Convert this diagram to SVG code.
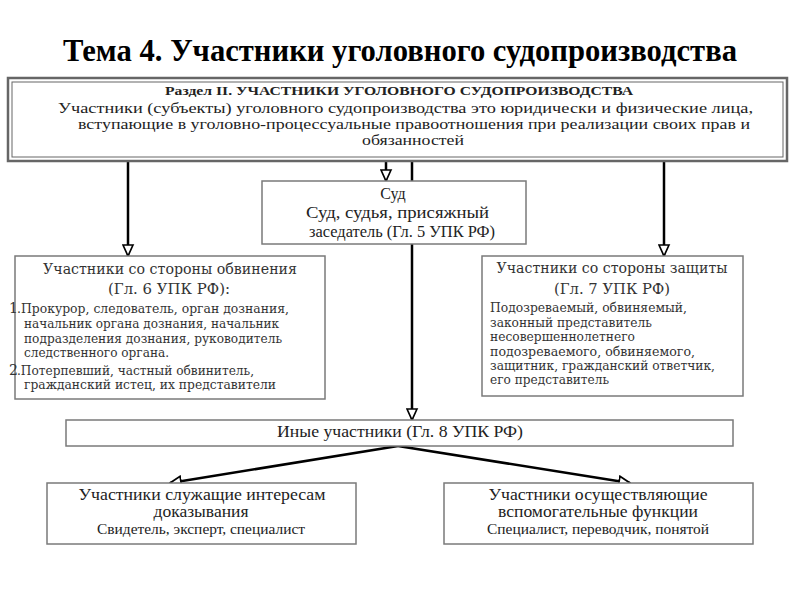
<svg xmlns="http://www.w3.org/2000/svg" width="800" height="600" viewBox="0 0 800 600">
<style>
  .box { fill: #ffffff; stroke: #7a7a7a; stroke-width: 1.5; }
  .t { font-family: "Liberation Serif", "Times New Roman", serif; fill: #222; }
  .w { font-family: "DejaVu Serif", "Liberation Serif", serif; fill: #333; }
  .title { font-family: "Liberation Serif", "Times New Roman", serif; font-weight: bold; font-size: 31px; fill: #000; }
  .conn { stroke: #000; stroke-width: 2.5; fill: none; }
</style>
<defs>
  <marker id="arr" markerUnits="userSpaceOnUse" markerWidth="13" markerHeight="13" viewBox="0 0 13 13" refX="12" refY="6.5" orient="auto">
    <path d="M1,1.5 L12,6.5 L1,11.5 Z" fill="#fff" stroke="#000" stroke-width="1.7"/>
  </marker>
</defs>
<rect width="800" height="600" fill="#fff"/>
<text class="title" x="63" y="61" textLength="674" lengthAdjust="spacingAndGlyphs">Тема 4. Участники уголовного судопроизводства</text>

<g id="connectors">
  <line class="conn" x1="128" y1="161" x2="128" y2="256" marker-end="url(#arr)"/>
  <line class="conn" x1="386" y1="161" x2="386" y2="181" marker-end="url(#arr)"/>
  <line class="conn" x1="412" y1="161" x2="412" y2="420" marker-end="url(#arr)"/>
  <line class="conn" x1="664" y1="161" x2="664" y2="256" marker-end="url(#arr)"/>
  <line class="conn" x1="398" y1="446" x2="170" y2="483" marker-end="url(#arr)"/>
  <line class="conn" x1="398" y1="446" x2="630" y2="483" marker-end="url(#arr)"/>
</g>

<g id="razdel">
  <rect x="8" y="78" width="779" height="83" fill="#fff" stroke="#666" stroke-width="2.5"/>
  <rect x="12" y="82" width="771" height="75" fill="none" stroke="#666" stroke-width="1"/>
  <text class="t" x="165" y="95" font-size="13" font-weight="bold" textLength="468" lengthAdjust="spacingAndGlyphs">Раздел II. УЧАСТНИКИ УГОЛОВНОГО СУДОПРОИЗВОДСТВА</text>
  <text class="t" x="58" y="113" font-size="15" textLength="695" lengthAdjust="spacingAndGlyphs">Участники (субъекты) уголовного судопроизводства  это юридически и физические лица,</text>
  <text class="t" x="78" y="129" font-size="15" textLength="672" lengthAdjust="spacingAndGlyphs">вступающие в уголовно-процессуальные правоотношения при реализации своих прав и</text>
  <text class="t" x="362" y="145" font-size="15" textLength="102" lengthAdjust="spacingAndGlyphs">обязанностей</text>
</g>

<g id="sud">
  <rect class="box" x="262" y="181" width="264" height="63"/>
  <text class="t" x="393" y="199" font-size="16" text-anchor="middle">Суд</text>
  <text class="t" x="306" y="218" font-size="16" textLength="183" lengthAdjust="spacingAndGlyphs">Суд, судья, присяжный</text>
  <text class="t" x="309" y="237" font-size="16" textLength="186" lengthAdjust="spacingAndGlyphs">заседатель (Гл. 5 УПК РФ)</text>
</g>

<g id="obvinenie">
  <rect class="box" x="15" y="256" width="310" height="143"/>
  <text class="w" x="170" y="274" font-size="15" text-anchor="middle" textLength="254" lengthAdjust="spacingAndGlyphs">Участники со стороны обвинения</text>
  <text class="w" x="169" y="294" font-size="15" text-anchor="middle" textLength="122" lengthAdjust="spacingAndGlyphs">(Гл. 6 УПК РФ):</text>
  <text class="w" x="9" y="313" font-size="14">1</text>
  <text class="w" x="17" y="313" font-size="12" textLength="272" lengthAdjust="spacingAndGlyphs">.Прокурор, следователь, орган дознания,</text>
  <text class="w" x="24" y="328" font-size="12" textLength="255" lengthAdjust="spacingAndGlyphs">начальник органа дознания, начальник</text>
  <text class="w" x="24" y="343" font-size="12" textLength="258" lengthAdjust="spacingAndGlyphs">подразделения дознания, руководитель</text>
  <text class="w" x="24" y="357" font-size="12" textLength="145" lengthAdjust="spacingAndGlyphs">следственного органа.</text>
  <text class="w" x="9" y="375" font-size="14">2</text>
  <text class="w" x="17" y="375" font-size="12" textLength="237" lengthAdjust="spacingAndGlyphs">.Потерпевший, частный обвинитель,</text>
  <text class="w" x="24" y="389" font-size="12" textLength="252" lengthAdjust="spacingAndGlyphs">гражданский истец, их представители</text>
</g>

<g id="zashchita">
  <rect class="box" x="482" y="256" width="261" height="140"/>
  <text class="w" x="612" y="273" font-size="15" text-anchor="middle" textLength="231" lengthAdjust="spacingAndGlyphs">Участники со стороны защиты</text>
  <text class="w" x="612" y="294" font-size="15" text-anchor="middle" textLength="116" lengthAdjust="spacingAndGlyphs">(Гл. 7 УПК РФ)</text>
  <text class="w" x="490" y="312" font-size="12" textLength="197" lengthAdjust="spacingAndGlyphs">Подозреваемый, обвиняемый,</text>
  <text class="w" x="490" y="327" font-size="12" textLength="162" lengthAdjust="spacingAndGlyphs">законный представитель</text>
  <text class="w" x="490" y="341" font-size="12" textLength="145" lengthAdjust="spacingAndGlyphs">несовершеннолетнего</text>
  <text class="w" x="490" y="356" font-size="12" textLength="205" lengthAdjust="spacingAndGlyphs">подозреваемого, обвиняемого,</text>
  <text class="w" x="490" y="370" font-size="12" textLength="225" lengthAdjust="spacingAndGlyphs">защитник, гражданский ответчик,</text>
  <text class="w" x="490" y="384" font-size="12" textLength="119" lengthAdjust="spacingAndGlyphs">его представитель</text>
</g>

<g id="inye">
  <rect class="box" x="66" y="420" width="667" height="26"/>
  <text class="t" x="400" y="437" font-size="16" text-anchor="middle" textLength="246" lengthAdjust="spacingAndGlyphs">Иные участники (Гл. 8 УПК РФ)</text>
</g>

<g id="dokazyvanie">
  <rect class="box" x="47" y="483" width="309" height="61"/>
  <text class="t" x="202" y="500" font-size="16" text-anchor="middle" textLength="247" lengthAdjust="spacingAndGlyphs">Участники служащие интересам</text>
  <text class="t" x="201" y="517" font-size="16" text-anchor="middle" textLength="95" lengthAdjust="spacingAndGlyphs">доказывания</text>
  <text class="t" x="201" y="534" font-size="14" text-anchor="middle" textLength="208" lengthAdjust="spacingAndGlyphs">Свидетель, эксперт, специалист</text>
</g>

<g id="vspomogatelnye">
  <rect class="box" x="444" y="483" width="309" height="61"/>
  <text class="t" x="598" y="500" font-size="16" text-anchor="middle" textLength="219" lengthAdjust="spacingAndGlyphs">Участники осуществляющие</text>
  <text class="t" x="598" y="517" font-size="16" text-anchor="middle" textLength="200" lengthAdjust="spacingAndGlyphs">вспомогательные функции</text>
  <text class="t" x="598" y="534" font-size="14" text-anchor="middle" textLength="222" lengthAdjust="spacingAndGlyphs">Специалист, переводчик, понятой</text>
</g>
</svg>
